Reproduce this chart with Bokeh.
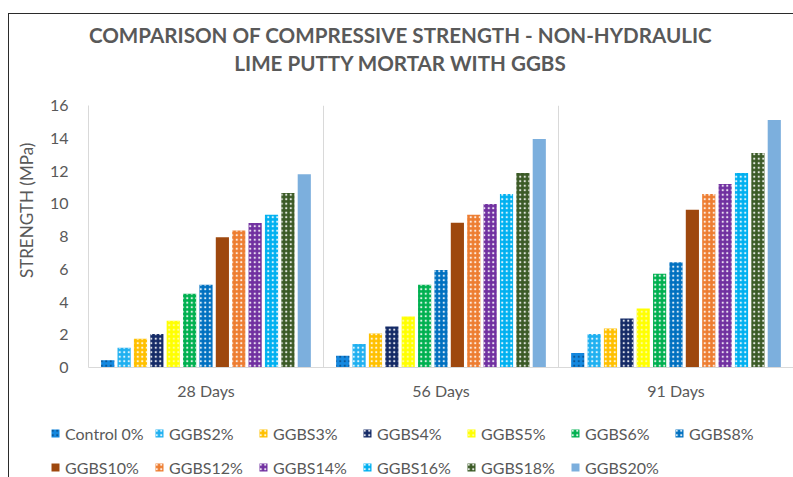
from bokeh.plotting import figure
from bokeh.layouts import column
from bokeh.models import (FactorRange, Range1d, ColumnDataSource, Legend, LegendItem,
                          Label, Span, FixedTicker)
from bokeh.transform import dodge
from bokeh.embed import file_html
from bokeh.resources import INLINE

# ---- data ----
periods = ["28 Days", "56 Days", "91 Days"]
series_names = ["Control 0%", "GGBS2%", "GGBS3%", "GGBS4%", "GGBS5%", "GGBS6%", "GGBS8%",
                "GGBS10%", "GGBS12%", "GGBS14%", "GGBS16%", "GGBS18%", "GGBS20%"]
control_0 = [0.45, 0.72, 0.88]
ggbs_2 = [1.20, 1.43, 2.04]
ggbs_3 = [1.75, 2.08, 2.38]
ggbs_4 = [2.05, 2.50, 3.00]
ggbs_5 = [2.85, 3.12, 3.61]
ggbs_6 = [4.50, 5.05, 5.73]
ggbs_8 = [5.05, 5.95, 6.42]
ggbs_10 = [7.95, 8.84, 9.64]
ggbs_12 = [8.36, 9.33, 10.60]
ggbs_14 = [8.83, 9.99, 11.21]
ggbs_16 = [9.33, 10.60, 11.88]
ggbs_18 = [10.66, 11.88, 13.10]
ggbs_20 = [11.80, 13.96, 15.12]
y_ticks = [0, 2, 4, 6, 8, 10, 12, 14, 16]

title_line1 = "COMPARISON OF COMPRESSIVE STRENGTH - NON-HYDRAULIC"
title_line2 = "LIME PUTTY MORTAR WITH GGBS"
y_label = "STRENGTH (MPa)"

# ---- styles ----
fills = ["#1589e0", "#1fb0f0", "#ffc000", "#142a66", "#ffff00", "#00b050", "#0070c0",
         "#9e480e", "#ed7d31", "#7030a0", "#00b0f0", "#3b5a26", "#7cafdd"]
hatch_cols = ["#0b4f8a", "white", "white", "white", "#fffbb0", "white", "white",
              None, "white", "white", "white", "white", None]

FONT = "Lato"
GRAY = "#595959"
LIGHT = "#d9d9d9"
W = 784
STEP = 0.0697
BW = 0.056


def bar_style(i):
    kw = dict(fill_color=fills[i], line_color=None)
    if hatch_cols[i] is not None:
        kw.update(hatch_pattern="dot", hatch_color=hatch_cols[i],
                  hatch_scale=4.5, hatch_weight=1.2, hatch_alpha=0.85)
    return kw


cols = {"period": periods}
keys = []
for i, vals in enumerate([control_0, ggbs_2, ggbs_3, ggbs_4, ggbs_5, ggbs_6, ggbs_8,
                          ggbs_10, ggbs_12, ggbs_14, ggbs_16, ggbs_18, ggbs_20]):
    k = "s%d" % i
    cols[k] = vals
    keys.append(k)
source = ColumnDataSource(cols)


def no_align(fig):
    try:
        fig.frame_align = False
    except Exception:
        pass


# ---- header with the two-line title ----
head = figure(width=W, height=70, x_range=Range1d(0, W), y_range=Range1d(70, 0),
              output_backend="svg", toolbar_location=None, min_border=0,
              x_axis_location=None, y_axis_location=None)
no_align(head)
head.outline_line_color = None
head.grid.grid_line_color = None
for txt, yy in [(title_line1, 20), (title_line2, 48)]:
    head.add_layout(Label(x=391, y=yy, text=txt, text_align="center", text_baseline="middle",
                          text_font=FONT, text_font_size="20.6px", text_font_style="bold",
                          text_color=GRAY))

# ---- main chart ----
p = figure(x_range=FactorRange(*periods), y_range=Range1d(0, 16),
           width=W, height=326, output_backend="svg", toolbar_location=None,
           min_border_left=79, min_border_right=0, min_border_top=21, min_border_bottom=43)
p.outline_line_color = None
p.xgrid.grid_line_color = None
p.ygrid.grid_line_color = None

for i, k in enumerate(keys):
    p.vbar(x=dodge("period", (i - 6) * STEP, range=p.x_range), top=k,
           width=BW, source=source, **bar_style(i))

for loc in [1, 2, 3]:
    p.add_layout(Span(location=loc, dimension="height", line_color=LIGHT, line_width=1))

p.yaxis.ticker = FixedTicker(ticks=y_ticks)
p.yaxis.axis_line_color = LIGHT
p.yaxis.major_tick_line_color = None
p.yaxis.major_tick_out = 0
p.yaxis.minor_tick_line_color = None
p.yaxis.major_label_text_font = FONT
p.yaxis.major_label_text_font_size = "16px"
p.yaxis.major_label_text_color = GRAY
p.yaxis.major_label_standoff = 20
# leading no-break spaces nudge the centred label up, as in the reference
p.yaxis.axis_label = "\u00a0" * 12 + y_label
p.yaxis.axis_label_text_font = FONT
p.yaxis.axis_label_text_font_size = "17px"
p.yaxis.axis_label_text_font_style = "normal"
p.yaxis.axis_label_text_color = GRAY
p.yaxis.axis_label_standoff = 10

p.xaxis.axis_line_color = LIGHT
p.xaxis.major_tick_line_color = None
p.xaxis.major_tick_out = 0
p.xaxis.minor_tick_line_color = None
p.xaxis.major_label_text_font = FONT
p.xaxis.major_label_text_font_size = "16px"
p.xaxis.major_label_text_color = GRAY
p.xaxis.major_label_standoff = 13

# ---- legend strip (hidden swatch renderers share the data and styles) ----
leg = figure(width=W, height=67, x_range=FactorRange(*periods), y_range=Range1d(-2, -1),
             output_backend="svg", toolbar_location=None, min_border=0,
             x_axis_location=None, y_axis_location=None)
no_align(leg)
leg.outline_line_color = None
leg.grid.grid_line_color = None
swatches = []
for i, k in enumerate(keys):
    r = leg.vbar(x=dodge("period", (i - 6) * STEP, range=leg.x_range), top=k,
                 width=BW, source=source, **bar_style(i))
    r.visible = False
    swatches.append(r)


def make_legend(idx, vy):
    items = [LegendItem(label=series_names[i], renderers=[swatches[i]], index=0) for i in idx]
    lg = Legend(items=items, orientation="horizontal", location=(41, vy),
                glyph_width=10, glyph_height=10, label_standoff=5, label_width=89,
                spacing=0, padding=0, margin=0, border_line_color=None,
                background_fill_alpha=0, label_text_font=FONT, label_text_font_size="16px",
                label_text_color=GRAY, label_height=20)
    leg.add_layout(lg, "center")


make_legend(range(0, 7), 34)
make_legend(range(7, 13), 0)

page = column(head, p, leg, spacing=0,
              styles={"margin-left": "8px", "margin-top": "13px",
                      "border-top": "1px solid #2b2b2b", "border-left": "1px solid #2b2b2b"})

open("out.html", "w").write(file_html(page, INLINE))
